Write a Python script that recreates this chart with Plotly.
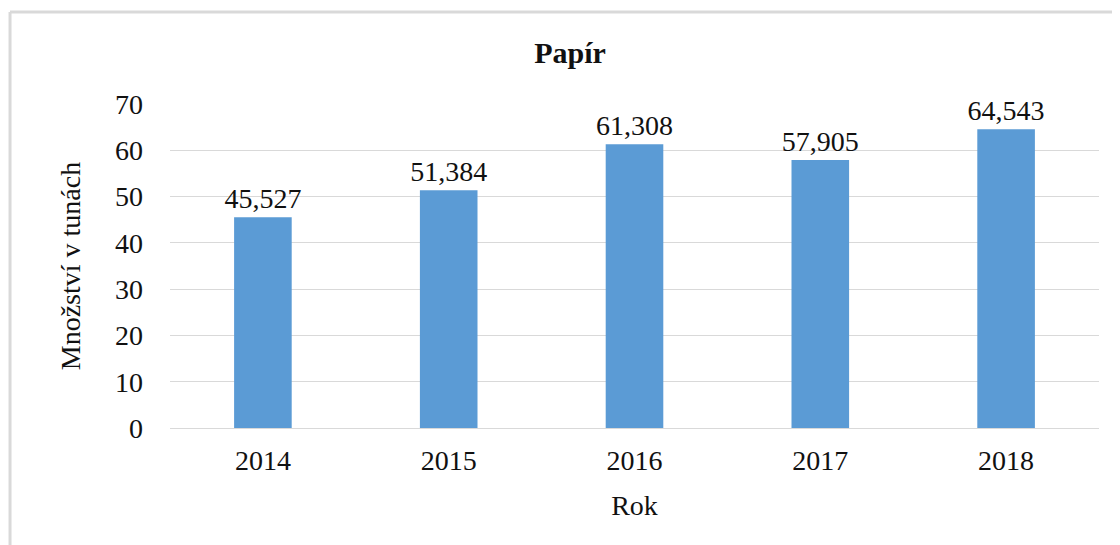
import plotly.graph_objects as go

years = ["2014", "2015", "2016", "2017", "2018"]
values = [45.527, 51.384, 61.308, 57.905, 64.543]
labels = ["45,527", "51,384", "61,308", "57,905", "64,543"]
y_ticks = [0, 10, 20, 30, 40, 50, 60, 70]

FONT = "Liberation Serif, Times New Roman, serif"
FS = 28

fig = go.Figure(go.Bar(
    x=years, y=values, text=labels, textposition="outside",
    textfont=dict(family=FONT, size=FS, color="#111111"),
    constraintext="none",
    marker=dict(color="#5B9BD5", line=dict(width=0)),
    cliponaxis=False,
))

fig.update_layout(
    width=1120, height=545,
    margin=dict(l=162, r=29, t=96, b=125),
    paper_bgcolor="white", plot_bgcolor="white",
    bargap=0.69,
    showlegend=False,
    font=dict(family=FONT, color="#111111"),
    title=dict(text="<b>Papír</b>", x=562 / 1120, xref="container", xanchor="center",
               y=1 - 44 / 545, yref="container", yanchor="middle",
               font=dict(family=FONT, size=30, color="#111111")),
    xaxis=dict(
        type="category",
        tickfont=dict(family=FONT, size=FS, color="#111111"),
        ticklabelstandoff=13,
        title=dict(text="Rok", font=dict(family=FONT, size=FS, color="#111111"), standoff=20),
        showgrid=False, showline=False, ticks="",
    ),
    yaxis=dict(
        range=[0, 70], tickvals=y_ticks,
        tickfont=dict(family=FONT, size=FS, color="#111111"),
        ticklabelstandoff=26,
        title=dict(text="Množství v tunách", font=dict(family=FONT, size=FS, color="#111111"), standoff=26),
        showgrid=True, gridcolor="#D9D9D9", gridwidth=1,
        zeroline=True, zerolinecolor="#D9D9D9", zerolinewidth=1,
        showline=False, ticks="", ticklen=0,
    ),
    shapes=[
        dict(type="line", xref="paper", yref="paper",
             x0=-0.1722, x1=1.05, y0=1.284, y1=1.284,
             line=dict(color="#D9D9D9", width=3)),
        dict(type="line", xref="paper", yref="paper",
             x0=-0.1722, x1=-0.1722, y0=1.284, y1=-0.5,
             line=dict(color="#D9D9D9", width=3)),
    ],
)

fig.write_html("out.html")
